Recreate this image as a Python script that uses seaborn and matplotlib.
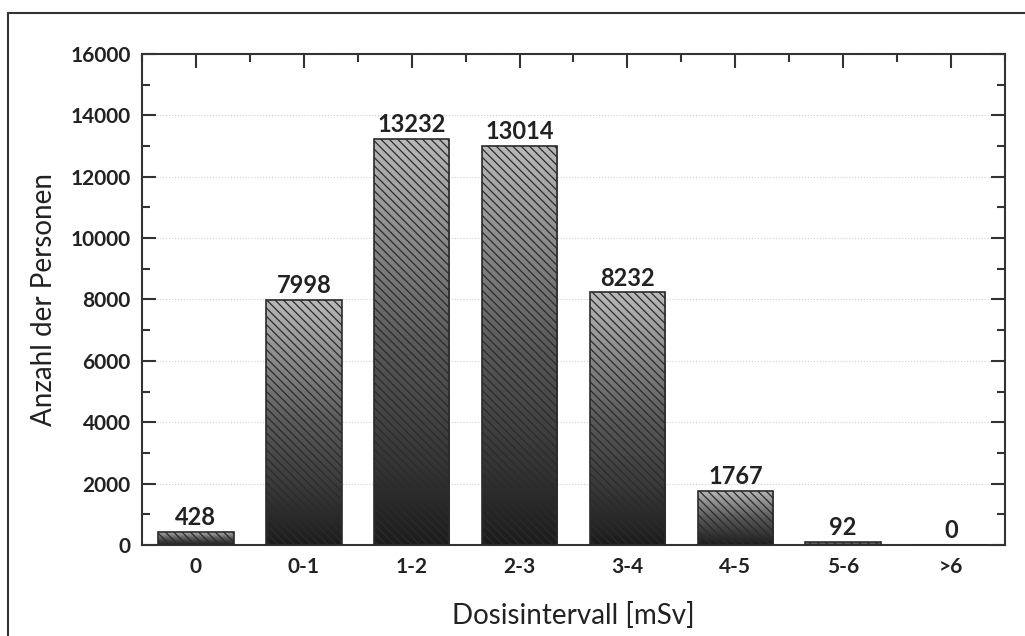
import numpy as np
import pandas as pd
import matplotlib
matplotlib.use('Agg')
import matplotlib.pyplot as plt
import seaborn as sns
from matplotlib.colors import LinearSegmentedColormap
from matplotlib.ticker import MultipleLocator
from matplotlib.patches import Rectangle

# --- data ---
intervals = ['0', '0-1', '1-2', '2-3', '3-4', '4-5', '5-6', '>6']
persons = [428, 7998, 13232, 13014, 8232, 1767, 92, 0]

df = pd.DataFrame({'interval': intervals, 'persons': persons})

sns.set_style('white')
plt.rcParams['font.family'] = ['Lato', 'DejaVu Sans']
plt.rcParams['hatch.linewidth'] = 0.9

fig = plt.figure(figsize=(10.25, 6.36), dpi=100)
ax = fig.add_axes([0.1385, 0.1431, 0.842, 0.772])

sns.barplot(data=df, x='interval', y='persons', ax=ax, width=0.7,
            color='none', edgecolor='#2b2b2b', linewidth=1.2, hatch='\\\\\\\\',
            zorder=3)

# gradient fill inside each bar (light top -> dark bottom)
cmap = LinearSegmentedColormap.from_list('g', ['#1c1c1c', '#5a5a5a', '#b9b9b9'])
grad = np.linspace(0, 1, 256).reshape(-1, 1)
for p in ax.patches:
    p.set_facecolor('none')
    x0, w, h = p.get_x(), p.get_width(), p.get_height()
    if h <= 0:
        continue
    im = ax.imshow(grad, cmap=cmap, aspect='auto', origin='lower',
                   extent=[x0, x0 + w, 0, h], zorder=2)
    im.set_clip_path(p)

ax.bar_label(ax.containers[0], labels=[str(v) for v in persons], padding=2,
             fontsize=17, fontweight='bold', color='#222222')

ax.set_xlim(-0.5, 7.5)
ax.set_ylim(0, 16000)
ax.yaxis.set_major_locator(MultipleLocator(2000))
ax.yaxis.set_minor_locator(MultipleLocator(1000))
ax.grid(axis='y', which='major', color='#d0d0d0', linestyle=':', linewidth=0.8, zorder=0)
ax.set_axisbelow(True)

ax.tick_params(axis='y', which='major', direction='in', length=10, width=1.5,
               left=True, right=True, color='#333333', labelsize=15, labelcolor='#222222', pad=8)
ax.tick_params(axis='y', which='minor', direction='in', length=6, width=1.5,
               left=True, right=True, color='#333333')
ax.tick_params(axis='x', which='major', direction='in', length=10, width=1.5,
               bottom=False, top=True, color='#333333', labelsize=15, labelcolor='#222222', pad=9)
ax.set_xticks(np.arange(-0.5, 8, 1), minor=True)
ax.tick_params(axis='x', which='minor', direction='in', length=6, width=1.5,
               bottom=False, top=True, color='#333333')
for lab in ax.get_xticklabels() + ax.get_yticklabels():
    lab.set_fontweight('bold')

for s in ax.spines.values():
    s.set_visible(True)
    s.set_color('#333333')
    s.set_linewidth(1.5)

ax.set_xlabel('Dosisintervall [mSv]', fontsize=20, color='#222222', labelpad=18)
ax.set_ylabel('Anzahl der Personen', fontsize=20, color='#222222', labelpad=10)

# outer frame
fig.patches.append(Rectangle((8 / 1025, -0.1), 1.2, 1 - 13 / 636 + 0.1,
                             transform=fig.transFigure, fill=False,
                             edgecolor='#333333', linewidth=1.5))

fig.savefig('out.png', dpi=100)
